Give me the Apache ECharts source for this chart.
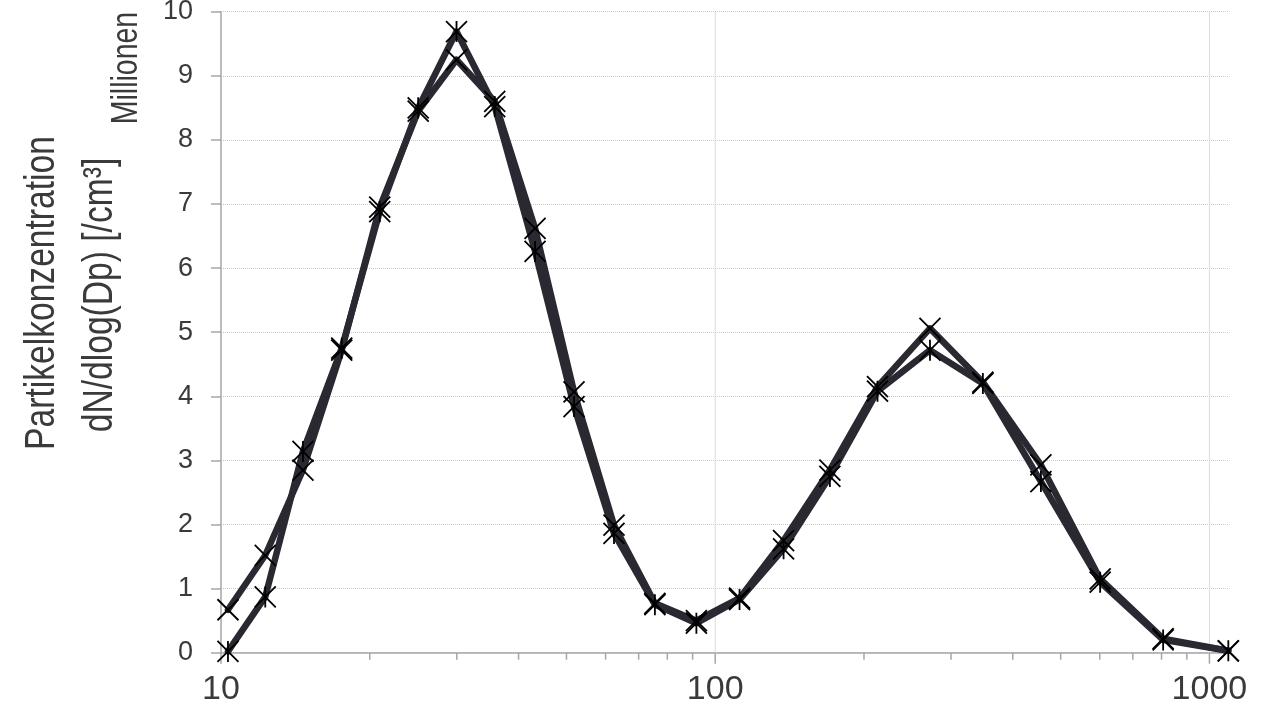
<!DOCTYPE html>
<html>
<head>
<meta charset="utf-8">
<script src="https://cdn.jsdelivr.net/npm/echarts@6/dist/echarts.min.js"></script>
<style>
html,body{margin:0;padding:0;background:#fff;}
#chart{width:1280px;height:720px;}
</style>
</head>
<body>
<div id="chart"></div>
<script>
// Particle diameter (nm) of each measurement channel
const diameters = [10.33, 12.29, 14.65, 17.55, 20.95, 25.06, 29.96, 35.8, 43.2, 51.8, 62.4, 75.5, 91.6, 112, 137.5, 170.6, 213, 272, 348, 456, 601, 806, 1092];
// dN/dlog(Dp) in millions per cm³ – series with "X" markers
const seriesX = [0.67, 1.52, 2.85, 4.72, 6.95, 8.45, 9.25, 8.60, 6.62, 4.07, 1.99, 0.77, 0.50, 0.85, 1.75, 2.85, 4.15, 5.06, 4.22, 2.93, 1.15, 0.22, 0.03];
// dN/dlog(Dp) in millions per cm³ – series with "*" markers
const seriesStar = [0.02, 0.87, 3.14, 4.75, 6.88, 8.50, 9.69, 8.52, 6.26, 3.84, 1.86, 0.75, 0.46, 0.83, 1.62, 2.75, 4.08, 4.72, 4.20, 2.67, 1.10, 0.20, 0.03];

const xTickLabels = [10, 100, 1000];
const xMinorTicks = [20, 30, 40, 50, 60, 70, 80, 90, 200, 300, 400, 500, 600, 700, 800, 900];
const xGridValues = [100, 1000];
const yMin = 0, yMax = 10, yStep = 1;
const xMin = 10, xMax = 1098;

const titleLine1 = 'Partikelkonzentration';
const titleLine2 = 'dN/dlog(Dp) [/cm³]';
const unitLabel = 'Millionen';

const LINE_COLOR = '#2a2932';
const AXIS_COLOR = '#a6a6a6';
const TEXT_COLOR = '#3a3a3a';
const SYM_X = 'path://M0,0L10,10M10,0L0,10';
const SYM_STAR = 'path://M0,0L10,10M10,0L0,10M5,0L5,10';

const chart = echarts.init(document.getElementById('chart'), null, {renderer: 'canvas'});

const tickData = xTickLabels.map(v => [v, 1]).concat(xMinorTicks.map(v => [v, 0]));

const option = {
  backgroundColor: '#ffffff',
  animation: false,
  grid: {left: 221, right: 50.5, top: 11.7, bottom: 67.3, containLabel: false, outerBoundsMode: 'none'},
  xAxis: {
    type: 'log', logBase: 10, min: xMin, max: xMax,
    axisLine: {show: true, lineStyle: {color: AXIS_COLOR, width: 1.5}},
    axisTick: {show: false},
    minorTick: {show: false},
    splitLine: {show: false},
    axisLabel: {
      fontFamily: 'Liberation Sans, Arial, sans-serif', fontSize: 34, color: TEXT_COLOR, margin: 20,
      formatter: function (v) {
        for (const t of xTickLabels) { if (Math.abs(v - t) / t < 1e-6) return String(t); }
        return '';
      }
    }
  },
  yAxis: {
    type: 'value', min: yMin, max: yMax, interval: yStep,
    axisLine: {show: true, lineStyle: {color: AXIS_COLOR, width: 1.5}},
    axisTick: {show: true, length: 10, lineStyle: {color: AXIS_COLOR, width: 1.5}},
    splitLine: {show: true, lineStyle: {color: '#c8c8c8', type: 'dotted', width: 1}},
    axisLabel: {fontFamily: 'Liberation Sans, Arial, sans-serif', fontSize: 27, color: TEXT_COLOR, margin: 28}
  },
  graphic: [
    {type: 'text', x: 42, y: 293, rotation: Math.PI / 2, scaleX: 0.8,
     style: {text: titleLine1, font: '42px "Liberation Sans", Arial, sans-serif', fill: TEXT_COLOR, align: 'center', verticalAlign: 'middle'}},
    {type: 'text', x: 100, y: 295, rotation: Math.PI / 2, scaleX: 0.8,
     style: {text: titleLine2, font: '42px "Liberation Sans", Arial, sans-serif', fill: TEXT_COLOR, align: 'center', verticalAlign: 'middle'}},
    {type: 'text', x: 127, y: 68, rotation: Math.PI / 2, scaleX: 0.77,
     style: {text: unitLabel, font: '37px "Liberation Sans", Arial, sans-serif', fill: TEXT_COLOR, align: 'center', verticalAlign: 'middle'}}
  ],
  series: [
    { // vertical gridlines at decades
      type: 'custom', silent: true, z: 1,
      data: xGridValues.map(v => [v, yMin]),
      encode: {x: 0, y: 1},
      renderItem: function (params, api) {
        const p0 = api.coord([api.value(0), yMin]);
        const p1 = api.coord([api.value(0), yMax]);
        return {type: 'line', shape: {x1: p0[0], y1: p0[1], x2: p1[0], y2: p1[1]},
                style: {stroke: '#dcdcdc', lineWidth: 1}};
      }
    },
    { // x-axis major and minor ticks
      type: 'custom', silent: true, clip: false, z: 2,
      data: tickData,
      encode: {x: 0},
      renderItem: function (params, api) {
        const p = api.coord([api.value(0), yMin]);
        const len = api.value(1) === 1 ? 11 : 7;
        return {type: 'line', shape: {x1: p[0], y1: p[1], x2: p[0], y2: p[1] + len},
                style: {stroke: AXIS_COLOR, lineWidth: 1.5}};
      }
    },
    {
      type: 'line', z: 3, showSymbol: false, silent: true,
      data: diameters.map((d, i) => [d, seriesX[i]]),
      lineStyle: {color: LINE_COLOR, width: 6.5, cap: 'round', join: 'round'}
    },
    {
      type: 'line', z: 3, showSymbol: false, silent: true,
      data: diameters.map((d, i) => [d, seriesStar[i]]),
      lineStyle: {color: LINE_COLOR, width: 6.5, cap: 'round', join: 'round'}
    },
    {
      type: 'scatter', z: 5, silent: true,
      data: diameters.map((d, i) => [d, seriesX[i]]),
      symbol: SYM_X, symbolSize: 21,
      itemStyle: {color: 'rgba(0,0,0,0)', borderColor: '#000', borderWidth: 1.8, opacity: 1}
    },
    {
      type: 'scatter', z: 5, silent: true,
      data: diameters.map((d, i) => [d, seriesStar[i]]),
      symbol: SYM_STAR, symbolSize: 21,
      itemStyle: {color: 'rgba(0,0,0,0)', borderColor: '#000', borderWidth: 1.8, opacity: 1}
    }
  ]
};
chart.setOption(option);
</script>
</body>
</html>
